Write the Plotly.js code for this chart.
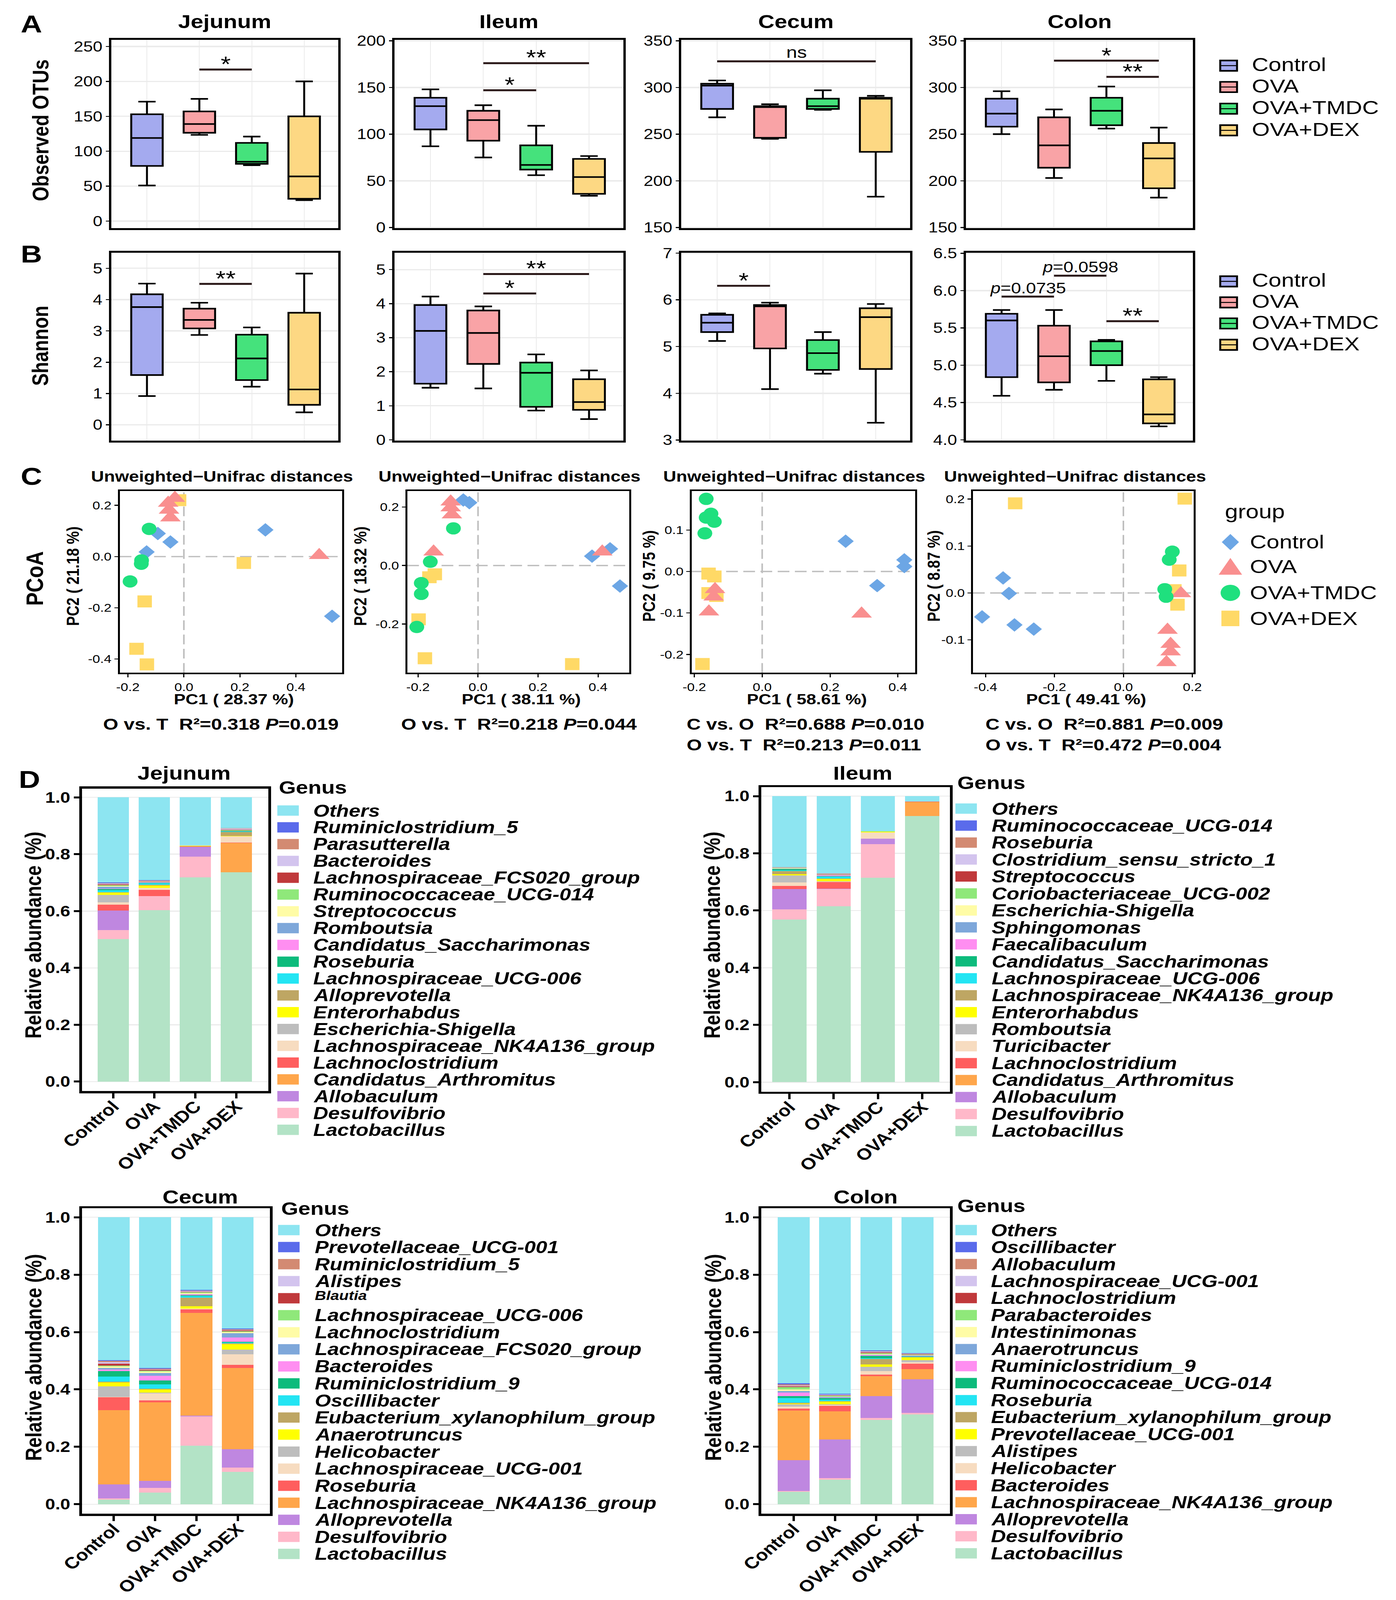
<!DOCTYPE html>
<html><head><meta charset="utf-8">
<script src="https://cdn.plot.ly/plotly-3.0.1.min.js"></script>
<style>html,body{margin:0;padding:0;background:#fff;overflow:hidden}
#wrap{width:3574px;height:5022px;transform:scale(1,0.828);transform-origin:0 0}</style>
</head><body>
<div id="wrap"><div id="chart" style="width:3574px;height:5022px"></div></div>
<script>
// ---------------- DATA ----------------
const groups = ['Control','OVA','OVA+TMDC','OVA+DEX'];
// boxplot stats: [min, q1, median, q3, max] per group
const otuJejunum = [[51,79,119,153,171],[123.5,126.5,139,157,175],[80,82,85,112,121],[30,32,64,150,200]];
const otuIleum   = [[87,105,130,139,148],[75,93,115,125,131],[56,62,67,88,109],[34,36,54,73.5,76.5]];
const otuCecum   = [[268,277,302,304,307.5],[245,246,279,280,282],[276,277,280,288,297],[183,231,288,289,291]];
const otuColon   = [[250,258,272,288,296],[203,214,238,268,276.5],[256,259.5,275,289,301],[182,192,224,240.5,257]];
const shJejunum  = [[0.92,1.59,3.76,4.17,4.51],[2.87,3.08,3.35,3.71,3.90],[1.22,1.43,2.12,2.88,3.11],[0.40,0.64,1.13,3.58,4.83]];
const shIleum    = [[1.53,1.65,3.20,3.96,4.21],[1.51,2.23,3.14,3.80,3.92],[0.86,0.97,1.97,2.27,2.51],[0.61,0.88,1.11,1.78,2.04]];
const shCecum    = [[5.12,5.31,5.51,5.68,5.71],[4.09,4.96,5.86,5.89,5.94],[4.42,4.50,4.86,5.14,5.31],[3.37,4.52,5.63,5.82,5.91]];
const shColon    = [[4.59,4.84,5.60,5.69,5.74],[4.67,4.77,5.12,5.53,5.74],[4.79,5.00,5.19,5.32,5.34],[4.18,4.22,4.34,4.81,4.84]];
// significance: [group from, group to, y, label]
const sigOtuJejunum = [[2,3,217,'*']];
const sigOtuIleum   = [[2,3,147,'*'],[2,4,176,'**']];
const sigOtuCecum   = [[1,4,328,'ns']];
const sigOtuColon   = [[2,4,328.7,'*'],[3,4,311.4,'**']];
const sigShJejunum  = [[2,3,4.50,'**']];
const sigShIleum    = [[2,3,4.30,'*'],[2,4,4.87,'**']];
const sigShCecum    = [[1,2,6.30,'*']];
const sigShColon    = [[1,2,5.92,'<i>p</i>=0.0735'],[2,3,6.20,'<i>p</i>=0.0598'],[3,4,5.59,'**']];

// PCoA coordinates
const pcoaJejunum = {
  'Control':  {pc1:[0.291,-0.093,-0.048,-0.133,0.529], pc2:[0.104,0.090,0.057,0.018,-0.233]},
  'OVA':      {pc1:[-0.032,-0.056,-0.053,-0.048,0.483], pc2:[0.228,0.209,0.182,0.152,0.005]},
  'OVA+TMDC': {pc1:[-0.124,-0.151,-0.152,-0.192], pc2:[0.108,-0.015,-0.028,-0.097]},
  'OVA+DEX':  {pc1:[-0.017,0.214,-0.140,-0.169,-0.132], pc2:[0.220,-0.025,-0.175,-0.360,-0.421]}
};
const pcoaIleum = {
  'Control':  {pc1:[-0.049,-0.029,0.380,0.440,0.473], pc2:[0.224,0.215,0.032,0.057,-0.070]},
  'OVA':      {pc1:[-0.091,-0.091,-0.087,-0.148,0.414], pc2:[0.218,0.198,0.174,0.047,0.047]},
  'OVA+TMDC': {pc1:[-0.082,-0.159,-0.189,-0.189,-0.204], pc2:[0.127,0.013,-0.060,-0.097,-0.210]},
  'OVA+DEX':  {pc1:[-0.144,-0.162,-0.198,-0.177,0.314], pc2:[-0.030,-0.040,-0.184,-0.317,-0.337]}
};
const pcoaCecum = {
  'Control':  {pc1:[0.246,0.419,0.419,0.339], pc2:[0.073,0.028,0.012,-0.034]},
  'OVA':      {pc1:[-0.139,-0.143,-0.157,0.293], pc2:[-0.043,-0.061,-0.097,-0.102]},
  'OVA+TMDC': {pc1:[-0.165,-0.151,-0.165,-0.141,-0.169], pc2:[0.175,0.139,0.130,0.120,0.092]},
  'OVA+DEX':  {pc1:[-0.158,-0.141,-0.158,-0.135,-0.176], pc2:[-0.005,-0.012,-0.052,-0.059,-0.223]}
};
const pcoaColon = {
  'Control':  {pc1:[-0.349,-0.332,-0.410,-0.316,-0.260], pc2:[0.032,-0.001,-0.051,-0.068,-0.077]},
  'OVA':      {pc1:[0.167,0.128,0.137,0.137,0.125], pc2:[-0.001,-0.079,-0.109,-0.125,-0.148]},
  'OVA+TMDC': {pc1:[0.142,0.133,0.120,0.124], pc2:[0.088,0.071,0.008,-0.008]},
  'OVA+DEX':  {pc1:[-0.314,0.178,0.162,0.148,0.157], pc2:[0.191,0.201,0.048,0.006,-0.025]}
};
const pcoaPC1Labels = ['PC1 ( 28.37 %)','PC1 ( 38.11 %)','PC1 ( 58.61 %)','PC1 ( 49.41 %)'];
const pcoaPC2Labels = ['PC2 ( 21.18 %)','PC2 ( 18.32 %)','PC2 ( 9.75 %)','PC2 ( 8.87 %)'];
const adonisJejunum = ['O vs. T\u00a0\u00a0R²=0.318 <i>P</i>=0.019'];
const adonisIleum   = ['O vs. T\u00a0\u00a0R²=0.218 <i>P</i>=0.044'];
const adonisCecum   = ['C vs. O\u00a0\u00a0R²=0.688 <i>P</i>=0.010','O vs. T\u00a0\u00a0R²=0.213 <i>P</i>=0.011'];
const adonisColon   = ['C vs. O\u00a0\u00a0R²=0.881 <i>P</i>=0.009','O vs. T\u00a0\u00a0R²=0.472 <i>P</i>=0.004'];

// Genus relative abundance (legend order: top -> bottom)
const genusJejunum = ['Others','Ruminiclostridium_5','Parasutterella','Bacteroides','Lachnospiraceae_FCS020_group','Ruminococcaceae_UCG-014','Streptococcus','Romboutsia','Candidatus_Saccharimonas','Roseburia','Lachnospiraceae_UCG-006','Alloprevotella','Enterorhabdus','Escherichia-Shigella','Lachnospiraceae_NK4A136_group','Lachnoclostridium','Candidatus_Arthromitus','Allobaculum','Desulfovibrio','Lactobacillus'];
const jejControl = [0.300,0.002,0.002,0.002,0.003,0.003,0.003,0.006,0.002,0.0035,0.007,0.002,0.0076,0.026,0.009,0.020,0,0.069,0.032,0.501];
const jejOVA     = [0.291,0.001,0.002,0.001,0.001,0.001,0.001,0.001,0.002,0.001,0.006,0.002,0.008,0.001,0.007,0.021,0,0,0.050,0.603];
const jejTMDC    = [0.1685,0,0,0.0005,0,0,0.0005,0,0.0005,0,0.0005,0.0005,0.0015,0,0.001,0.001,0,0.0345,0.073,0.718];
const jejDEX     = [0.108,0.001,0.001,0.004,0.002,0.002,0,0.001,0,0.002,0.001,0.0138,0.002,0,0.022,0.001,0.1025,0,0,0.737];

const genusIleum = ['Others','Ruminococcaceae_UCG-014','Roseburia','Clostridium_sensu_stricto_1','Streptococcus','Coriobacteriaceae_UCG-002','Escherichia-Shigella','Sphingomonas','Faecalibaculum','Candidatus_Saccharimonas','Lachnospiraceae_UCG-006','Lachnospiraceae_NK4A136_group','Enterorhabdus','Romboutsia','Turicibacter','Lachnoclostridium','Candidatus_Arthromitus','Allobaculum','Desulfovibrio','Lactobacillus'];
const ileControl = [0.248,0.001,0.001,0.001,0.001,0.001,0.001,0.001,0.001,0.003,0.0034,0.0103,0.005,0.024,0.0123,0.0116,0,0.0705,0.0356,0.5685];
const ileOVA     = [0.270,0.001,0.001,0.001,0.001,0.001,0.001,0.001,0.003,0.002,0.006,0.002,0.008,0.001,0.002,0.0226,0,0.002,0.0596,0.615];
const ileTMDC    = [0.1228,0,0,0,0,0.0015,0,0,0,0,0,0,0.002,0,0.022,0.001,0,0.0185,0.1178,0.7144];
const ileDEX     = [0.0185,0,0,0,0,0,0,0,0,0,0,0,0,0,0,0.0015,0.049,0,0,0.931];

const genusCecum = ['Others','Prevotellaceae_UCG-001','Ruminiclostridium_5','Alistipes','Blautia','Lachnospiraceae_UCG-006','Lachnoclostridium','Lachnospiraceae_FCS020_group','Bacteroides','Ruminiclostridium_9','Oscillibacter','Eubacterium_xylanophilum_group','Anaerotruncus','Helicobacter','Lachnospiraceae_UCG-001','Roseburia','Lachnospiraceae_NK4A136_group','Alloprevotella','Desulfovibrio','Lactobacillus'];
const cecControl = [0.4986,0.002,0.0048,0.0055,0.0068,0.002,0.005,0.006,0.0048,0.019,0.0185,0.003,0.0137,0.0356,0.002,0.0445,0.2585,0.049,0.005,0.0157];
const cecOVA     = [0.5253,0.003,0.002,0.002,0.002,0.003,0.006,0.0089,0.0171,0.0137,0.015,0.002,0.0116,0.002,0.024,0.0068,0.2736,0.0253,0.0157,0.041];
const cecTMDC    = [0.2534,0.002,0.002,0.002,0.002,0.003,0.003,0.002,0.002,0.003,0.006,0.0294,0.009,0,0.002,0.0123,0.3577,0.0034,0.102,0.2038];
const cecDEX     = [0.3877,0.003,0.002,0.002,0.003,0.002,0.005,0.0137,0.015,0.004,0.002,0.003,0.0185,0.0171,0.0363,0.0103,0.2839,0.0636,0.015,0.1129];

const genusColon = ['Others','Oscillibacter','Allobaculum','Lachnospiraceae_UCG-001','Lachnoclostridium','Parabacteroides','Intestinimonas','Anaerotruncus','Ruminiclostridium_9','Ruminococcaceae_UCG-014','Roseburia','Eubacterium_xylanophilum_group','Prevotellaceae_UCG-001','Alistipes','Helicobacter','Bacteroides','Lachnospiraceae_NK4A136_group','Alloprevotella','Desulfovibrio','Lactobacillus'];
const colControl = [0.578,0.0048,0.0034,0.003,0.003,0.0082,0.0055,0.0055,0.0123,0.0068,0.0157,0.003,0.002,0.0082,0.0068,0.0075,0.1724,0.1074,0.0034,0.0431];
const colOVA     = [0.6151,0.002,0.001,0.002,0.002,0.002,0.002,0.002,0.002,0.0048,0.0055,0.002,0.0089,0.0034,0.002,0.0198,0.0978,0.1354,0.0048,0.0855];
const colTMDC    = [0.4644,0.002,0.002,0.002,0.003,0.003,0.002,0.002,0.003,0.0075,0.003,0.0191,0.0082,0.015,0.0123,0.0055,0.0698,0.0753,0.0068,0.2941];
const colDEX     = [0.4733,0.001,0.002,0.001,0.002,0.001,0.002,0.001,0.001,0.001,0.002,0.001,0.0096,0.0062,0.0055,0.0198,0.0349,0.1176,0.0048,0.3133];

// ---------------- STYLE / LAYOUT ----------------
const W = 3574, H = 5022;
const FONT = 'Liberation Sans, Arial, sans-serif';
const fx = p => p / W, fy = p => 1 - p / H;
const boxFill = ['#A4AAEF','#F9A3A6','#45E27C','#FDD883'];
const ptColor = {'Control':'#6CA6E5','OVA':'#F98F8F','OVA+TMDC':'#1FE07E','OVA+DEX':'#FFD966'};
const ptSymbol = {'Control':'diamond','OVA':'triangle-up','OVA+TMDC':'circle','OVA+DEX':'square'};
const ptSize = {'Control':32,'OVA':46,'OVA+TMDC':38,'OVA+DEX':37};
const genusPalette = ['#8DE5F1','#5A6BEB','#D38A72','#D3C4EE','#C0393B','#8FE87A','#FFFCA6','#7EA7DA','#FF8EF1','#0DBB7C','#23E5F3','#BEA663','#FFFF00','#BDBDBD','#F7DCC0','#FF5E5E','#FFA64B','#BF87E0','#FFB8C9','#B3E3C6'];

const data = [];
const layout = {width:W, height:H, margin:{l:0,r:0,t:0,b:0,pad:0}, paper_bgcolor:'#fff', plot_bgcolor:'rgba(0,0,0,0)',
  showlegend:false, barmode:'stack', shapes:[], annotations:[], font:{family:FONT}};
const sfx = n => n === 1 ? '' : String(n);

function setAxes(n, fr, xr, yr, xo, yo, lw){
  layout['xaxis'+sfx(n)] = Object.assign({domain:[fx(fr[0]),fx(fr[1])], range:xr, anchor:'y'+sfx(n), showline:true, mirror:true,
    linecolor:'#000', linewidth:lw, zeroline:false, fixedrange:true}, xo);
  layout['yaxis'+sfx(n)] = Object.assign({domain:[fy(fr[3]),fy(fr[2])], range:yr, anchor:'x'+sfx(n), showline:true, mirror:true,
    linecolor:'#000', linewidth:lw, zeroline:false, fixedrange:true}, yo);
}
function txt(x, y, t, size, o = {}){
  layout.annotations.push({xref:'paper', yref:'paper', x:fx(x), y:fy(y), text:t, showarrow:false,
    xanchor:o.xanchor||'center', yanchor:o.yanchor||'middle', textangle:o.angle||0,
    font:{family:FONT, size:size, color:'#000', weight:o.weight||'normal', style:o.style||'normal'}});
}

// ---------- Panels A & B (boxplots) ----------
const xsBox = [[285,866],[1010,1596],[1744,2330],[2473,3054]];
const boxPanels = [
  {stats:otuJejunum, sig:sigOtuJejunum, yr:[-9.9,259.6], tv:[0,50,100,150,200,250], tt:null, t:123, b:705},
  {stats:otuIleum,   sig:sigOtuIleum,   yr:[-0.6,201.1],  tv:[0,50,100,150,200], tt:null, t:123, b:705},
  {stats:otuCecum,   sig:sigOtuCecum,   yr:[149.4,351.1], tv:[150,200,250,300,350], tt:null, t:123, b:705},
  {stats:otuColon,   sig:sigOtuColon,   yr:[149.4,351.1], tv:[150,200,250,300,350], tt:null, t:123, b:705},
  {stats:shJejunum,  sig:sigShJejunum,  yr:[-0.5,5.5], tv:[0,1,2,3,4,5], tt:null, t:781, b:1362},
  {stats:shIleum,    sig:sigShIleum,    yr:[-0.02,5.5], tv:[0,1,2,3,4,5], tt:null, t:781, b:1362},
  {stats:shCecum,    sig:sigShCecum,    yr:[2.99,7.01], tv:[3,4,5,6,7], tt:null, t:781, b:1362},
  {stats:shColon,    sig:sigShColon,    yr:[3.99,6.51], tv:[4,4.5,5,5.5,6,6.5], tt:['4.0','4.5','5.0','5.5','6.0','6.5'], t:781, b:1362}
];
boxPanels.forEach((p, k) => {
  const n = k + 1, xs = xsBox[k % 4];
  setAxes(n, [xs[0], xs[1], p.t, p.b], [0.32, 4.65], p.yr,
    {tickvals:[1,2,3,4], showticklabels:false, ticks:'', showgrid:true, gridcolor:'#EBEBEB', gridwidth:2},
    {tickvals:p.tv, ticktext:p.tt || p.tv.map(String), ticks:'outside', ticklen:8, tickwidth:3, tickcolor:'#000',
     tickfont:{family:FONT, size:44, color:'#000'}, showgrid:true, gridcolor:'#EBEBEB', gridwidth:4}, 6);
  p.stats.forEach((s, i) => {
    data.push({type:'box', xaxis:'x'+sfx(n), yaxis:'y'+sfx(n), x:[i+1], lowerfence:[s[0]], q1:[s[1]], median:[s[2]],
      q3:[s[3]], upperfence:[s[4]], width:0.6, whiskerwidth:0.55, fillcolor:boxFill[i], line:{color:'#000', width:5},
      boxpoints:false, hoverinfo:'skip'});
  });
  p.sig.forEach(sg => {
    layout.shapes.push({type:'line', xref:'x'+sfx(n), yref:'y'+sfx(n), x0:sg[0], x1:sg[1], y0:sg[2], y1:sg[2],
      line:{color:'#2A1818', width:6}});
    const isStar = sg[3].indexOf('*') === 0;
    layout.annotations.push({xref:'x'+sfx(n), yref:'y'+sfx(n), x:(sg[0]+sg[1])/2, y:sg[2], text:sg[3], showarrow:false,
      xanchor:'center', yanchor:'bottom', yshift:isStar ? -22 : -2,
      font:{family:FONT, size:isStar ? 66 : (sg[3]==='ns' ? 50 : 46), color:'#000'}});
  });
});
['Jejunum','Ileum','Cecum','Colon'].forEach((t, i) => txt([575,1303,2037,2764][i], 67, t, 58, {weight:'bold'}));
txt(80, 73, 'A', 76, {weight:'bold'});
txt(80, 785, 'B', 76, {weight:'bold'});
txt(103, 403, 'Observed OTUs', 58, {weight:'bold', angle:-90});
txt(103, 1069, 'Shannon', 58, {weight:'bold', angle:-90});
[[200,266,333,400],[867,932,997,1063]].forEach(ys => {
  ys.forEach((y, i) => {
    layout.shapes.push({type:'rect', xref:'paper', yref:'paper', x0:fx(3124), x1:fx(3167), y0:fy(y+19), y1:fy(y-13),
      fillcolor:boxFill[i], line:{color:'#000', width:5}});
    layout.shapes.push({type:'line', xref:'paper', yref:'paper', x0:fx(3124), x1:fx(3167), y0:fy(y+3), y1:fy(y+3),
      line:{color:'#000', width:3}});
    txt(3203, y, groups[i], 59, {xanchor:'left'});
  });
});

// ---------- Panel C (PCoA) ----------
const pcoaPanels = [
  {d:pcoaJejunum, fr:[306.5,876,1518,2080], xr:[-0.229,0.565], yr:[-0.4535,0.256], xt:[-0.2,0,0.2,0.4], yt:[-0.4,-0.2,0,0.2],
   title:568, xl:599, yl:186, statL:262, stats:adonisJejunum},
  {d:pcoaIleum, fr:[1042.5,1611,1518,2080], xr:[-0.236,0.504], yr:[-0.3665,0.2548], xt:[-0.2,0,0.2,0.4], yt:[-0.2,0,0.2],
   title:1304, xl:1334, yl:922, statL:1025, stats:adonisIleum},
  {d:pcoaCecum, fr:[1771,2343,1518,2080], xr:[-0.2076,0.451], yr:[-0.244,0.194], xt:[-0.2,0,0.2,0.4], yt:[-0.2,-0.1,0,0.1],
   title:2033, xl:2066, yl:1661, statL:1756, stats:adonisCecum},
  {d:pcoaColon, fr:[2491,3056,1518,2080], xr:[-0.4364,0.2039], yr:[-0.17,0.2173], xt:[-0.4,-0.2,0,0.2], yt:[-0.1,0,0.1,0.2],
   title:2752, xl:2781, yl:2390, statL:2521, stats:adonisColon}
];
const fmt1 = v => v.toFixed(1);
pcoaPanels.forEach((p, k) => {
  const n = 9 + k;
  setAxes(n, p.fr, p.xr, p.yr,
    {tickvals:p.xt, ticktext:p.xt.map(fmt1), ticks:'outside', ticklen:9, tickwidth:3, tickcolor:'#000',
     tickfont:{family:FONT, size:35, color:'#000'}, showgrid:false},
    {tickvals:p.yt, ticktext:p.yt.map(fmt1), ticks:'outside', ticklen:9, tickwidth:3, tickcolor:'#000',
     tickfont:{family:FONT, size:35, color:'#000'}, showgrid:false}, 5);
  layout.shapes.push({type:'line', xref:'x'+n, yref:'y'+n+' domain', x0:0, x1:0, y0:0, y1:1, layer:'below',
    line:{color:'#BEBEBE', width:4, dash:'30px,14px'}});
  layout.shapes.push({type:'line', xref:'x'+n+' domain', yref:'y'+n, x0:0, x1:1, y0:0, y1:0, layer:'below',
    line:{color:'#BEBEBE', width:4, dash:'30px,14px'}});
  ['OVA+DEX','Control','OVA','OVA+TMDC'].forEach(g => {
    data.push({type:'scatter', mode:'markers', xaxis:'x'+n, yaxis:'y'+n, x:p.d[g].pc1, y:p.d[g].pc2,
      marker:{symbol:ptSymbol[g], size:ptSize[g], color:ptColor[g], line:{width:0}}, hoverinfo:'skip', cliponaxis:false});
  });
  txt(p.title, 1473, 'Unweighted\u2212Unifrac distances', 46, {weight:'bold'});
  txt(p.xl, 2161, pcoaPC1Labels[k], 45, {weight:'bold'});
  txt(p.yl, 1781, pcoaPC2Labels[k], 45, {weight:'bold', angle:-90});
  p.stats.forEach((s, j) => txt(p.statL, 2239 + j*64, s, 50, {weight:'bold', xanchor:'left'}));
});
txt(80, 1473, 'C', 76, {weight:'bold'});
txt(89, 1789, 'PCoA', 62, {weight:'bold', angle:-90});
// group legend
txt(3134, 1582, 'group', 60, {xanchor:'left'});
const legY = [1676,1752,1833,1912], lx = 3150;
const P = (x, y) => fx(x) + ',' + fy(y);
layout.shapes.push({type:'path', xref:'paper', yref:'paper', path:'M'+P(lx,legY[0]-25)+'L'+P(lx+22,legY[0])+'L'+P(lx,legY[0]+25)+'L'+P(lx-22,legY[0])+'Z',
  fillcolor:ptColor['Control'], line:{width:0}});
layout.shapes.push({type:'path', xref:'paper', yref:'paper', path:'M'+P(lx,legY[1]-27)+'L'+P(lx+30,legY[1]+25)+'L'+P(lx-30,legY[1]+25)+'Z',
  fillcolor:ptColor['OVA'], line:{width:0}});
layout.shapes.push({type:'circle', xref:'paper', yref:'paper', x0:fx(lx-25), x1:fx(lx+25), y0:fy(legY[2]+25), y1:fy(legY[2]-25),
  fillcolor:ptColor['OVA+TMDC'], line:{width:0}});
layout.shapes.push({type:'rect', xref:'paper', yref:'paper', x0:fx(lx-23), x1:fx(lx+23), y0:fy(legY[3]+24), y1:fy(legY[3]-24),
  fillcolor:ptColor['OVA+DEX'], line:{width:0}});
groups.forEach((g, i) => txt(3198, legY[i], g, 59, {xanchor:'left'}));

// ---------- Panel D (stacked bars) ----------
const barPanels = [
  {title:'Jejunum', genus:genusJejunum, vals:[jejControl,jejOVA,jejTMDC,jejDEX], fr:[210,687,2438,3373], xr:[0.238,4.781],
   tx:471, ty:2390, ylx:85, yly:2891, gx:712, gy:2434, sw:710, tl:800, y0:2506, step:51.95},
  {title:'Ileum', genus:genusIleum, vals:[ileControl,ileOVA,ileTMDC,ileDEX], fr:[1949,2432,2434,3375], xr:[0.364,4.627],
   tx:2209, ty:2390, ylx:1823, yly:2891, gx:2449, gy:2421, sw:2446, tl:2537, y0:2500, step:52.47},
  {title:'Cecum', genus:genusCecum, vals:[cecControl,cecOVA,cecTMDC,cecDEX], fr:[210,691,3736,4680], xr:[0.229,4.78],
   tx:512, ty:3700, ylx:86, yly:4197, gx:718, gy:3736, sw:712, tl:804, y0:3803, step:52.7},
  {title:'Colon', genus:genusColon, vals:[colControl,colOVA,colTMDC,colDEX], fr:[1949,2432,3736,4680], xr:[0.215,4.785],
   tx:2216, ty:3700, ylx:1826, yly:4197, gx:2449, gy:3727, sw:2446, tl:2535, y0:3803, step:52.6}
];
const smallLabels = ['Blautia'];
barPanels.forEach((p, k) => {
  const n = 13 + k;
  setAxes(n, p.fr, p.xr, [-0.033,1.031],
    {tickvals:[1,2,3,4], ticktext:groups, tickangle:-45, ticks:'outside', ticklen:16, tickwidth:6, tickcolor:'#000',
     ticklabelstandoff:-24, tickfont:{family:FONT, size:50, color:'#000', weight:'bold'}, showgrid:false},
    {tickvals:[0,0.2,0.4,0.6,0.8,1.0], ticktext:['0.0','0.2','0.4','0.6','0.8','1.0'], ticks:'outside', ticklen:14, tickwidth:6,
     tickcolor:'#000', tickfont:{family:FONT, size:46, color:'#000', weight:'bold'}, showgrid:true, gridcolor:'#EBEBEB', gridwidth:3}, 7);
  for (let g = p.genus.length - 1; g >= 0; g--) {
    data.push({type:'bar', xaxis:'x'+n, yaxis:'y'+n, x:[1,2,3,4], y:p.vals.map(v => v[g]), width:0.77,
      marker:{color:genusPalette[g], line:{width:0}}, hoverinfo:'skip', name:p.genus[g]});
  }
  txt(p.tx, p.ty, p.title, 58, {weight:'bold'});
  txt(p.ylx, p.yly, 'Relative abundance (%)', 57, {weight:'bold', angle:-90});
  txt(p.gx, p.gy, 'Genus', 56, {weight:'bold', xanchor:'left'});
  p.genus.forEach((gname, i) => {
    const y = p.y0 + i * p.step;
    layout.shapes.push({type:'rect', xref:'paper', yref:'paper', x0:fx(p.sw), x1:fx(p.sw+55), y0:fy(y+16), y1:fy(y-16),
      fillcolor:genusPalette[i], line:{width:0}});
    const small = smallLabels.indexOf(gname) >= 0;
    txt(p.tl, small ? y - 9 : y, gname, small ? 40 : 53, {weight:'bold', style:'italic', xanchor:'left'});
  });
});
txt(75, 2409, 'D', 76, {weight:'bold'});

Plotly.newPlot('chart', data, layout, {staticPlot:true, displayModeBar:false});
</script>
</body></html>
